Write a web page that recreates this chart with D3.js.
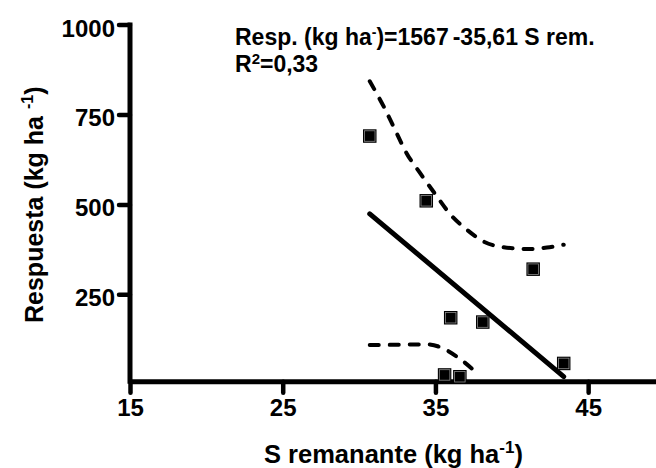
<!DOCTYPE html>
<html>
<head>
<meta charset="utf-8">
<script src="https://cdn.jsdelivr.net/npm/d3@7"></script>
<style>
  html, body { margin: 0; padding: 0; background: #fff; }
  svg { display: block; }
  text { font-family: "Liberation Sans", Arial, sans-serif; font-weight: bold; fill: #000; }
</style>
</head>
<body>
<svg id="chart" width="656" height="468"></svg>
<script>
// Observed data: remaining S (kg/ha) vs. yield response (kg/ha)
const sRemanente = [30.7, 34.4, 41.4, 36.0, 38.1, 43.4, 35.6, 36.6];
const respuesta  = [690, 510, 320, 185, 173, 58, 26, 21];

// Fitted regression: Resp = 1567 - 35.61 * S rem.
const intercept = 1567;
const slope = -35.61;
const r2Label = "0,33";

// 95% confidence band of the fit
const upperBandX = [30.7, 31.6, 32.35, 33.1, 34.0, 35.1, 36.0, 37.05, 38.15, 39.45, 41.0, 42.3, 43.4];
const upperBandY = [842, 773, 708, 643, 587, 522, 471, 430, 397, 381, 376, 380, 388];
const lowerBandX = [30.7, 32.7, 34.4, 35.2, 36.4, 37.75];
const lowerBandY = [109, 110, 111, 105, 77, 30];

// Axis ticks
const xTicks = [15, 25, 35, 45];
const yTicks = [250, 500, 750, 1000];

const svg = d3.select("#chart");

const x = d3.scaleLinear().domain([15, 50]).range([130, 664.5]);
const y = d3.scaleLinear().domain([0, 1000]).range([384.3, 24.5]);
const yFloor = 7; // where the horizontal axis sits

// ---- axes ----
const axisG = svg.append("g");
const xAxis = d3.axisBottom(x).tickValues(xTicks).tickSize(11).tickPadding(6).tickFormat(d3.format("d"));
const yAxis = d3.axisLeft(y).tickValues(yTicks).tickSize(11).tickPadding(4).tickFormat(d3.format("d"));

const gx = axisG.append("g").attr("transform", `translate(0,${y(yFloor)})`).call(xAxis);
const gy = axisG.append("g").attr("transform", `translate(${x(15)},0)`).call(yAxis);

[gx, gy].forEach(g => {
  g.select(".domain").remove();
  g.selectAll(".tick line").attr("stroke", "#000").attr("stroke-width", 4.5).attr("stroke-linecap", "round");
  g.selectAll(".tick text").style("font-size", "24px").attr("fill", "#000");
});
gx.selectAll(".tick text").attr("dy", "0.71em");
gy.selectAll(".tick text").attr("dy", "0.48em");

// axis lines
axisG.append("line")
  .attr("x1", x(15)).attr("x2", 656)
  .attr("y1", y(yFloor)).attr("y2", y(yFloor))
  .attr("stroke", "#000").attr("stroke-width", 5);
axisG.append("line")
  .attr("x1", x(15)).attr("x2", x(15))
  .attr("y1", y(1000) - 2).attr("y2", y(yFloor) + 2)
  .attr("stroke", "#000").attr("stroke-width", 5);

// ---- confidence bands ----
const band = d3.line().x(d => x(d[0])).y(d => y(d[1])).curve(d3.curveMonotoneX);
const bandStyle = sel => sel.attr("fill", "none").attr("stroke", "#000")
  .attr("stroke-width", 4).attr("stroke-dasharray", "9,11").attr("stroke-linecap", "round");

svg.append("path").datum(d3.zip(upperBandX, upperBandY)).attr("d", band).call(bandStyle);
svg.append("path").datum(d3.zip(lowerBandX, lowerBandY)).attr("d", band).call(bandStyle);

// ---- regression line ----
const [xMin, xMax] = d3.extent(sRemanente);
const fit = v => intercept + slope * v;
svg.append("line")
  .attr("x1", x(xMin)).attr("y1", y(fit(xMin)))
  .attr("x2", x(xMax)).attr("y2", y(fit(xMax)))
  .attr("stroke", "#000").attr("stroke-width", 5).attr("stroke-linecap", "round");

// ---- points ----
const sz = 13.5;
const pts = svg.append("g").selectAll("g").data(d3.zip(sRemanente, respuesta)).join("g")
  .attr("transform", d => `translate(${x(d[0])},${y(d[1])})`);
pts.append("rect").attr("x", -sz / 2).attr("y", -sz / 2).attr("width", sz).attr("height", sz)
  .attr("fill", "#000");
pts.append("rect").attr("x", -sz / 2 + 1.5).attr("y", -sz / 2 + 1.5).attr("width", sz - 3).attr("height", sz - 3)
  .attr("fill", "#000").attr("stroke", "#8a8a8a").attr("stroke-width", 0.8);

// ---- equation text ----
const eq = svg.append("text").attr("x", 235).attr("y", 45).style("font-size", "23px");
eq.append("tspan").text("Resp. (kg ha");
eq.append("tspan").attr("dy", -8).style("font-size", "14px").text("-");
eq.append("tspan").attr("dy", 8).text(`)=${intercept}`);
eq.append("tspan").attr("dx", 4).text(`-${String(-slope).replace(".", ",")} S rem.`);

const r2 = svg.append("text").attr("x", 235).attr("y", 71.5).style("font-size", "23px");
r2.append("tspan").text("R");
r2.append("tspan").attr("dy", -8).style("font-size", "15px").text("2");
r2.append("tspan").attr("dy", 8).text(`=${r2Label}`);

// ---- axis titles ----
const xt = svg.append("text").attr("x", 264).attr("y", 462.5).style("font-size", "25.5px");
xt.append("tspan").text("S remanante (kg ha");
xt.append("tspan").attr("dy", -10).style("font-size", "17px").text("-1");
xt.append("tspan").attr("dy", 10).text(")");

const yt = svg.append("text").attr("transform", "translate(43,323) rotate(-90)").style("font-size", "25px");
yt.append("tspan").text("Respuesta (kg ha ");
yt.append("tspan").attr("dy", -10).style("font-size", "16px").text("-1");
yt.append("tspan").attr("dy", 10).text(")");
</script>
</body>
</html>
